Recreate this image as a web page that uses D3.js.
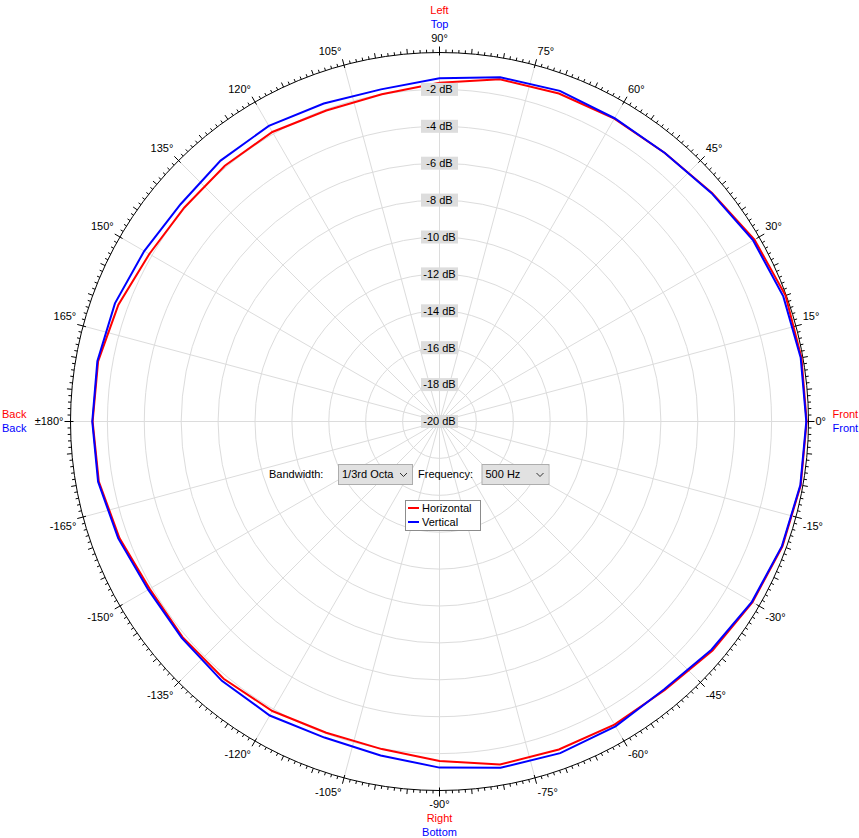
<!DOCTYPE html>
<html>
<head>
<meta charset="UTF-8">
<style>
  body { margin: 0; background: #fff; }
  text { font-family: "Liberation Sans", Arial, sans-serif; font-size: 11px; }
</style>
</head>
<body>
<script src="https://cdnjs.cloudflare.com/ajax/libs/d3/7.8.5/d3.min.js"></script>
<script>
// angles in degrees, counter-clockwise from "Front" (right)
var angles = [0,10,20,30,40,50,60,70,80,90,100,110,120,130,140,150,160,170,180,
              -170,-160,-150,-140,-130,-120,-110,-100,-90,-80,-70,-60,-50,-40,-30,-20,-10]
var horizontal = [-0.10,-0.08,-0.04,-0.29,-0.72,-1.00,-1.05,-1.08,-1.17,-1.64,-1.99,-2.06,-1.88,-1.90,-1.95,-1.84,-1.48,-1.21,-1.20,
                  -1.25,-1.54,-1.86,-1.82,-1.80,-1.88,-2.05,-1.97,-1.60,-1.12,-1.08,-1.03,-1.00,-0.68,-0.41,-0.22,-0.12]
var vertical = [-0.12,-0.12,-0.17,-0.37,-0.75,-1.00,-1.02,-0.93,-1.05,-1.40,-1.72,-1.66,-1.50,-1.54,-1.68,-1.52,-1.28,-1.17,-1.18,
                -1.21,-1.47,-1.77,-1.76,-1.65,-1.60,-1.77,-1.62,-1.24,-0.94,-0.87,-0.92,-1.05,-0.76,-0.45,-0.25,-0.14]
var angleTicks = [0,15,30,45,60,75,90,105,120,135,150,165,180,-165,-150,-135,-120,-105,-90,-75,-60,-45,-30,-15]
var angleLabels = ['0°','15°','30°','45°','60°','75°','90°','105°','120°','135°','150°','165°','±180°',
                   '-165°','-150°','-135°','-120°','-105°','-90°','-75°','-60°','-45°','-30°','-15°']
var dbTicks = [-2,-4,-6,-8,-10,-12,-14,-16,-18,-20]
var dbLabels = ['-2 dB','-4 dB','-6 dB','-8 dB','-10 dB','-12 dB','-14 dB','-16 dB','-18 dB','-20 dB']
var seriesNames = ['Horizontal','Vertical']
var colors = ['#ff0000','#0000ff']

var width = 859
	,height = 838
	,cx = 439.5
	,cy = 421.5
	,R = 369
	,svg = d3.select('body').append('svg').attr('width', width).attr('height', height)
	,g = svg.append('g').attr('transform', 'translate(' + cx + ',' + cy + ')')
	,r = d3.scaleLinear().domain([-20, 0]).range([0, R])
	,rad = function(deg) { return deg * Math.PI / 180 }
	,px = function(deg, rr) { return rr * Math.cos(rad(deg)) }
	,py = function(deg, rr) { return -rr * Math.sin(rad(deg)) }

// grid circles
g.selectAll('.ring').data(dbTicks.filter(function(d){ return d > -20 }))
	.enter().append('circle')
	.attr('r', function(d){ return r(d) })
	.attr('fill', 'none').attr('stroke', '#dcdcdc').attr('stroke-width', 1)

// radial spokes
g.selectAll('.spoke').data(angleTicks)
	.enter().append('line')
	.attr('x1', 0).attr('y1', 0)
	.attr('x2', function(d){ return px(d, R) })
	.attr('y2', function(d){ return py(d, R) })
	.attr('stroke', '#dcdcdc').attr('stroke-width', 1)

// outer circle
g.append('circle').attr('r', R).attr('fill', 'none').attr('stroke', '#000').attr('stroke-width', 1)

// tick marks every degree
var ticks = d3.range(0, 360, 1)
g.selectAll('.tick').data(ticks)
	.enter().append('line')
	.attr('x1', function(d){ return px(d, d % 15 == 0 ? R - 3 : R) })
	.attr('y1', function(d){ return py(d, d % 15 == 0 ? R - 3 : R) })
	.attr('x2', function(d){ var l = d % 15 == 0 ? 6 : d % 5 == 0 ? 5 : 3; return px(d, R + l) })
	.attr('y2', function(d){ var l = d % 15 == 0 ? 6 : d % 5 == 0 ? 5 : 3; return py(d, R + l) })
	.attr('stroke', '#000').attr('stroke-width', 1)

// angle labels: box set beside the tick end
var sgn = function(v) { return Math.abs(v) < 1e-6 ? 0 : (v > 0 ? 1 : -1) }
var al = g.selectAll('.alabel').data(angleTicks)
	.enter().append('text')
	.attr('text-anchor', 'middle')
	.attr('dy', '0.35em')
	.text(function(d, i){ return angleLabels[i] })
al.each(function(d){
	var hw = this.getComputedTextLength() / 2
		,c = Math.cos(rad(d)), s = Math.sin(rad(d))
		,x = px(d, R + 6) + sgn(c) * (hw + 1)
		,y = py(d, R + 6) - sgn(s) * 8
	d3.select(this).attr('x', x).attr('y', y)
})

// side names
var sides = [
	{t: 'Left', c: '#ff0000', x: 0, y: -R - 42, a: 'middle'},
	{t: 'Top', c: '#0000ff', x: 0, y: -R - 28, a: 'middle'},
	{t: 'Right', c: '#ff0000', x: 0, y: R + 28, a: 'middle'},
	{t: 'Bottom', c: '#0000ff', x: 0, y: R + 42, a: 'middle'},
	{t: 'Front', c: '#ff0000', x: R + 24, y: -7, a: 'start'},
	{t: 'Front', c: '#0000ff', x: R + 24, y: 7, a: 'start'},
	{t: 'Back', c: '#ff0000', x: -R - 44, y: -7, a: 'end'},
	{t: 'Back', c: '#0000ff', x: -R - 44, y: 7, a: 'end'}
]
g.selectAll('.side').data(sides)
	.enter().append('text')
	.attr('x', function(d){ return d.x }).attr('y', function(d){ return d.y })
	.attr('dy', '0.35em')
	.attr('text-anchor', function(d){ return d.a })
	.attr('fill', function(d){ return d.c })
	.text(function(d){ return d.t })

// series lines
var line = d3.lineRadial()
	.angle(function(d){ return rad(90 - d[0]) })
	.radius(function(d){ return r(d[1]) })
	.curve(d3.curveLinearClosed)

;[horizontal, vertical].forEach(function(vals, i) {
	g.append('path')
		.datum(angles.map(function(a, j){ return [a, vals[j]] }))
		.attr('d', line)
		.attr('fill', 'none')
		.attr('stroke', colors[i])
		.attr('stroke-width', 2)
		.attr('stroke-linejoin', 'miter')
})

// dB labels
var dl = g.selectAll('.dlabel').data(dbTicks)
	.enter().append('g')
	.attr('transform', function(d){ return 'translate(0,' + (-r(d)) + ')' })
dl.append('rect').attr('x', -18.5).attr('y', -6.5).attr('width', 37).attr('height', 13).attr('fill', '#dddddd')
dl.append('text').attr('text-anchor', 'middle').attr('dy', '0.35em').attr('fill', '#000')
	.text(function(d, i){ return dbLabels[i] })

// controls
var ctl = svg.append('g')
ctl.append('text').attr('x', 269).attr('y', 478).text('Bandwidth:')
ctl.append('text').attr('x', 418).attr('y', 478).text('Frequency:')
var combos = [{x: 338, w: 74, t: '1/3rd Octa'}, {x: 481.5, w: 67, t: '500 Hz'}]
combos.forEach(function(c) {
	var cg = ctl.append('g').attr('transform', 'translate(' + c.x + ',464)')
	cg.append('rect').attr('x', 0.5).attr('y', 0.5).attr('width', c.w).attr('height', 20)
		.attr('fill', '#e1e1e1').attr('stroke', '#adadad')
	cg.append('text').attr('x', 4).attr('y', 14).text(c.t)
	cg.append('rect').attr('x', c.w - 15).attr('y', 2).attr('width', 15).attr('height', 17).attr('fill', '#e1e1e1')
	cg.append('path').attr('d', 'M' + (c.w - 12) + ',9 l3.5,3.5 l3.5,-3.5')
		.attr('fill', 'none').attr('stroke', '#333').attr('stroke-width', 1)
})

// legend
var lg = svg.append('g').attr('transform', 'translate(405,500)')
lg.append('rect').attr('x', 0.5).attr('y', 0.5).attr('width', 75).attr('height', 30)
	.attr('fill', '#fff').attr('stroke', '#8c8c8c')
seriesNames.forEach(function(n, i) {
	lg.append('line').attr('x1', 3).attr('x2', 14).attr('y1', 8 + i * 14).attr('y2', 8 + i * 14)
		.attr('stroke', colors[i]).attr('stroke-width', 2)
	lg.append('text').attr('x', 17).attr('y', 8 + i * 14).attr('dy', '0.35em').text(n)
})
</script>
</body>
</html>
